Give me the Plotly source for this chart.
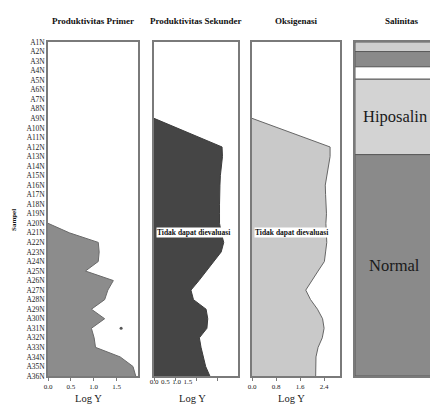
import plotly.graph_objects as go

# ---------------- data ----------------
samples = ["A1N", "A2N", "A3N", "A4N", "A5N", "A6N", "A7N", "A8N", "A9N", "A10N",
           "A11N", "A12N", "A13N", "A14N", "A15N", "A16N", "A17N", "A18N", "A19N", "A20N",
           "A21N", "A22N", "A23N", "A24N", "A25N", "A26N", "A27N", "A28N", "A29N", "A30N",
           "A31N", "A32N", "A33N", "A34N", "A35N", "A36N"]

# Log Y values per sample (None = no value drawn)
primer = [None] * 19 + [0.0, 0.47, 1.10, 1.12, 1.10, 0.82, 1.43, 1.31, 1.24, 0.95,
                        1.24, 0.95, 1.01, 1.04, 1.58, 1.86, 1.92]
primer_outlier_sample = "A31N"
primer_outlier_value = 1.6

sekunder = [None] * 8 + [0.0, 0.54, 1.08, 1.62, 1.63, 1.60, 1.58, 1.57, 1.56, 1.56,
                         1.56, 1.56, 1.60, 1.66, 1.60, 1.43, 1.25, 1.07, 0.88, 0.94,
                         1.24, 1.28, 1.26, 1.08, 1.12, 1.17, 1.23, 1.33]

oksigenasi = [None] * 8 + [0.0, 0.87, 1.73, 2.60, 2.60, 2.54, 2.49, 2.44, 2.45, 2.47,
                           2.48, 2.46, 2.47, 2.49, 2.45, 2.41, 2.20, 1.99, 1.79, 1.95,
                           2.18, 2.35, 2.40, 2.34, 2.20, 2.13, 2.12, 2.12]

not_evaluated_sample = "A21N"
not_evaluated_text = "Tidak dapat dievaluasi"

# Salinitas zones (in sample-position units, from top)
sal_labels = ["", "", "", "Hiposalin", "Normal"]
sal_start = [0.0, 1.0, 2.6, 3.9, 11.8]
sal_end = [1.0, 2.6, 3.9, 11.8, 35.0]
sal_colors = ["#cfcfcf", "#8a8a8a", "#ffffff", "#d3d3d3", "#8a8a8a"]

ticks_pp = [0.0, 0.5, 1.0, 1.5]
ticks_ps = [0.0, 0.5, 1.0, 1.5]
ticks_ox = [0.0, 0.8, 1.6, 2.4]

titles = ["Produktivitas Primer", "Produktivitas Sekunder", "Oksigenasi", "Salinitas"]

# ---------------- layout geometry ----------------
W, H = 438, 405
OFF = 8  # page body margin of the browser
FONT = "Liberation Serif"
LINE = "#7a7a7a"
pos = list(range(len(samples)))

def px(v):
    return (v - OFF) / W

def py(v):
    return 1 - (v - OFF) / H

ydom = [py(376), py(42)]
d1 = [px(48), px(138)]
d2 = [px(154), px(238)]
d3 = [px(252), px(340)]
d4 = [px(355), px(438)]

fig = go.Figure()

# Panel 1
fig.add_trace(go.Scatter(x=primer, y=pos, xaxis="x", yaxis="y", mode="lines",
                         fill="tozerox", fillcolor="#8c8c8c",
                         line=dict(color="#6a6a6a", width=1)))
fig.add_trace(go.Scatter(x=[primer_outlier_value], y=[samples.index(primer_outlier_sample)],
                         xaxis="x", yaxis="y", mode="markers",
                         marker=dict(size=3, color="#555555")))
# Panel 2
fig.add_trace(go.Scatter(x=sekunder, y=pos, xaxis="x2", yaxis="y2", mode="lines",
                         fill="tozerox", fillcolor="#454545",
                         line=dict(color="#3c3c3c", width=1)))
# label axis for panel 2 (compressed tick labels)
fig.add_trace(go.Scatter(x=[None], y=[None], xaxis="x5", yaxis="y2", mode="lines",
                         hoverinfo="skip"))
# Panel 3
fig.add_trace(go.Scatter(x=oksigenasi, y=pos, xaxis="x3", yaxis="y3", mode="lines",
                         fill="tozerox", fillcolor="#c9c9c9",
                         line=dict(color="#666666", width=1)))
# Panel 4
fig.add_trace(go.Bar(x=[0.5] * len(sal_start),
                     y=[e - s for s, e in zip(sal_start, sal_end)],
                     base=sal_start, width=1, xaxis="x4", yaxis="y4",
                     marker=dict(color=sal_colors, line=dict(color="#5a5a5a", width=1))))

tickfont = dict(family=FONT, size=7, color="#222")

def xax(dom, rng, tv, anchor, labels=True, ticks="outside"):
    return dict(domain=dom, range=rng, tickvals=tv, ticktext=[f"{t:.1f}" for t in tv],
                showticklabels=labels, ticks=ticks, ticklen=3, tickcolor=LINE,
                showline=True, linecolor=LINE, linewidth=1.5, mirror=True,
                showgrid=False, zeroline=False, anchor=anchor, tickfont=tickfont,
                automargin=False)

def yax(anchor, labels=False, mirror=True):
    return dict(domain=ydom, range=[35, 0], tickvals=pos, ticktext=samples,
                showticklabels=labels, ticks="", showline=True, linecolor=LINE,
                linewidth=1.5, mirror=mirror, showgrid=False, zeroline=False,
                anchor=anchor, tickfont=dict(family=FONT, size=7.5, color="#222"),
                automargin=False)

fig.update_layout(
    width=W, height=H, margin=dict(l=0, r=0, t=0, b=0),
    paper_bgcolor="white", plot_bgcolor="white", showlegend=False,
    xaxis=xax(d1, [0, 1.97], ticks_pp, "y"),
    xaxis2=xax(d2, [0, 2.0], ticks_ps, "y2", labels=False),
    xaxis3=xax(d3, [0, 2.93], ticks_ox, "y3"),
    xaxis4=dict(domain=d4, range=[0, 1], showticklabels=False, ticks="",
                showline=True, linecolor=LINE, linewidth=1.5, mirror=True,
                showgrid=False, zeroline=False, anchor="y4", automargin=False),
    xaxis5=dict(overlaying="x2", anchor="y2", range=[0, 3.72], tickvals=ticks_ps,
                ticktext=[f"{t:.1f}" for t in ticks_ps], ticks="", showline=False,
                showgrid=False, zeroline=False, side="bottom", tickfont=tickfont,
                automargin=False),
    yaxis=yax("x", labels=True),
    yaxis2=yax("x2"),
    yaxis3=yax("x3"),
    yaxis4=yax("x4", mirror=False),
)

ann = []
title_x = [93, 196, 296, 402]
for t, xc in zip(titles, title_x):
    ann.append(dict(text=f"<b>{t}</b>", x=px(xc), y=py(21), xref="paper", yref="paper",
                    xanchor="center", yanchor="middle",
                    showarrow=False, font=dict(family=FONT, size=9, color="#111")))
for xc in [88, 192, 291]:
    ann.append(dict(text="Log Y", x=px(xc), y=py(398), xref="paper", yref="paper",
                    xanchor="center", yanchor="middle",
                    showarrow=False, font=dict(family=FONT, size=10.5, color="#222")))
ann.append(dict(text="<b>Sampel</b>", x=px(14), y=py(220), xref="paper", yref="paper",
                xanchor="center", yanchor="middle",
                showarrow=False, textangle=-90, font=dict(family=FONT, size=7, color="#111")))
for xr, yr in [("x2", "y2"), ("x3", "y3")]:
    ann.append(dict(text=f"<b>{not_evaluated_text}</b>", x=0, y=samples.index(not_evaluated_sample),
                    xref=xr, yref=yr, xanchor="left", yanchor="middle", xshift=2,
                    showarrow=False, bgcolor="white", borderpad=0,
                    font=dict(family=FONT, size=7.5, color="#111")))
for lab, s, e in zip(sal_labels, sal_start, sal_end):
    if lab:
        ann.append(dict(text=lab, x=0.5, y=(s + e) / 2, xref="x4", yref="y4", xshift=-2,
                        showarrow=False, font=dict(family=FONT, size=16.5, color="#1a1a1a")))
fig.update_layout(annotations=ann)

fig.write_html("out.html")
